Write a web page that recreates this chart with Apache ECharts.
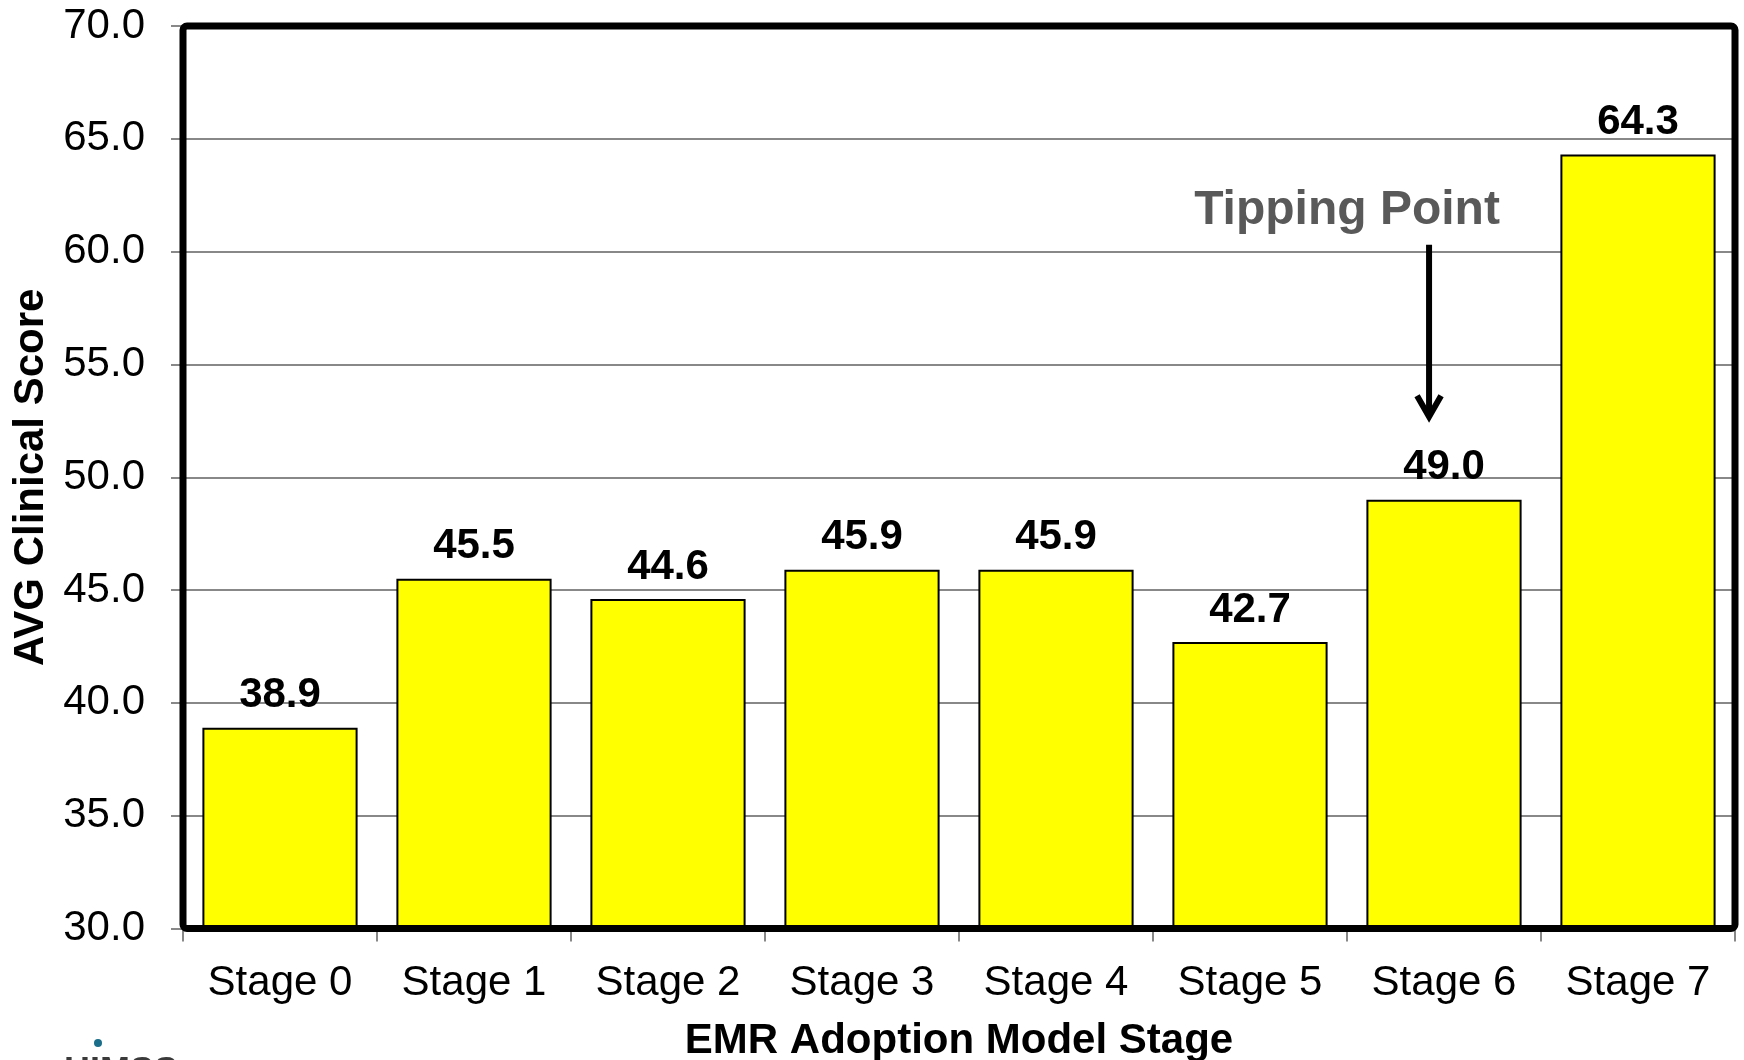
<!DOCTYPE html>
<html>
<head>
<meta charset="utf-8">
<script src="https://cdn.jsdelivr.net/npm/echarts@6/dist/echarts.min.js"></script>
<style>
html,body{margin:0;padding:0;background:#fff;}
#main{width:1744px;height:1060px;}
</style>
</head>
<body>
<div id="main"></div>
<script>
// ---- data ----
var categories = ['Stage 0','Stage 1','Stage 2','Stage 3','Stage 4','Stage 5','Stage 6','Stage 7'];
var scores = [38.9, 45.5, 44.6, 45.9, 45.9, 42.7, 49.0, 64.3];
var yTicks = [30, 35, 40, 45, 50, 55, 60, 65, 70];
var annotationText = 'Tipping Point';
var annotationStage = 'Stage 6';
var annotationTextValue = 61.83;
var arrowTopValue = 60.3;
var arrowTipValue = 52.55;

var FONT = "'Liberation Sans', Arial, sans-serif";
var G = {left: 183, right: 9, top: 26, bottom: 131.5};

var chart = echarts.init(document.getElementById('main'), null, {renderer: 'canvas'});

var option = {
  backgroundColor: '#ffffff',
  animation: false,
  grid: {left: G.left, right: G.right, top: G.top, bottom: G.bottom, show: false,
    containLabel: false, outerBoundsMode: 'none'},
  xAxis: {
    type: 'category',
    data: categories,
    name: 'EMR Adoption Model Stage',
    nameLocation: 'middle',
    nameGap: 92,
    nameTextStyle: {fontFamily: FONT, fontSize: 42, fontWeight: 'bold', color: '#000'},
    axisLine: {show: true, lineStyle: {color: '#888', width: 2}},
    axisTick: {show: true, alignWithLabel: false, length: 13, lineStyle: {color: '#888', width: 2}},
    axisLabel: {fontFamily: FONT, fontSize: 42, color: '#000', margin: 34, interval: 0},
    splitLine: {show: false}
  },
  yAxis: {
    type: 'value',
    min: yTicks[0],
    max: yTicks[yTicks.length - 1],
    interval: yTicks[1] - yTicks[0],
    name: 'AVG Clinical Score',
    nameLocation: 'middle',
    nameGap: 130,
    nameRotate: 90,
    nameTextStyle: {fontFamily: FONT, fontSize: 42, fontWeight: 'bold', color: '#000'},
    axisLine: {show: true, lineStyle: {color: '#888', width: 2}},
    axisTick: {show: true, length: 12, lineStyle: {color: '#888', width: 2}},
    axisLabel: {fontFamily: FONT, fontSize: 42, color: '#000', margin: 38,
      padding: [4, 0, 0, 0],
      formatter: function (v) { return v.toFixed(1); }},
    splitLine: {show: true, lineStyle: {color: '#888', width: 2}}
  },
  series: [{
    type: 'bar',
    data: scores,
    barCategoryGap: '20%',
    itemStyle: {color: '#FFFF00', borderColor: '#000', borderWidth: 2},
    label: {
      show: true, position: 'top', distance: 11,
      fontFamily: FONT, fontSize: 42, fontWeight: 'bold', color: '#000',
      formatter: function (p) { return p.value.toFixed(1); }
    }
  }]
};
chart.setOption(option);

function drawOverlay() {
  var w = chart.getWidth(), h = chart.getHeight();
  var px = function (c) { return chart.convertToPixel({xAxisIndex: 0}, c); };
  var py = function (v) { return chart.convertToPixel({yAxisIndex: 0}, v); };
  var cx = px(annotationStage);
  var band = px(categories[1]) - px(categories[0]);
  var textY = py(annotationTextValue);
  var ax = cx - 0.077 * band;
  var aTop = py(arrowTopValue), aTip = py(arrowTipValue);
  var pl = G.left, pt = G.top, pw = w - G.left - G.right, ph = h - G.top - G.bottom;
  chart.setOption({
    graphic: [
      {type: 'rect', z: 100, silent: true,
        shape: {x: pl, y: pt, width: pw, height: ph, r: 4},
        style: {fill: null, stroke: '#000', lineWidth: 7}},
      {type: 'text', z: 101, silent: true, x: cx - band / 2, y: textY,
        style: {text: annotationText, font: "bold 48px 'Liberation Sans', Arial, sans-serif",
          fill: '#595959', align: 'center', verticalAlign: 'middle'}},
      {type: 'line', z: 101, silent: true,
        shape: {x1: ax, y1: aTop, x2: ax, y2: aTip - 3},
        style: {stroke: '#000', lineWidth: 6}},
      {type: 'polyline', z: 101, silent: true,
        shape: {points: [[ax - 12, aTip - 24], [ax, aTip - 3], [ax + 12, aTip - 24]]},
        style: {stroke: '#000', lineWidth: 6, fill: null, lineJoin: 'miter'}},
      {type: 'circle', z: 101, silent: true, shape: {cx: 98, cy: 1043, r: 4},
        style: {fill: '#1a6e8a'}},
      {type: 'text', z: 101, silent: true, x: 64, y: 1055,
        style: {text: 'HIMSS', font: "bold 36px 'Liberation Sans', Arial, sans-serif",
          fill: '#3a3a3a', align: 'left', verticalAlign: 'top'}},
      {type: 'text', z: 101, silent: true, x: 176, y: 1059,
        style: {text: 'Analytics', font: "24px 'Liberation Sans', Arial, sans-serif",
          fill: '#b0b0b0', align: 'left', verticalAlign: 'top'}}
    ]
  });
}
drawOverlay();
</script>
</body>
</html>
